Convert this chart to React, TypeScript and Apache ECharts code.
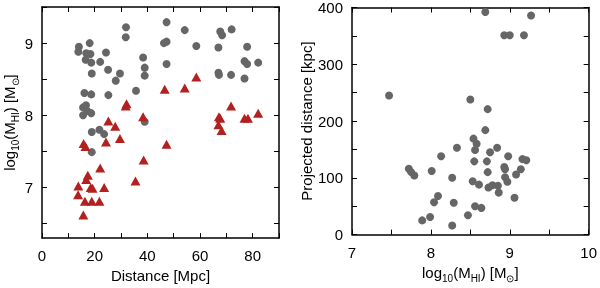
import React, { useEffect, useRef } from "react";
import * as echarts from "echarts";

// Left panel: distance [Mpc] vs log10(M_HI)
const leftGrayPoints: [number, number][] = [
  [14.0, 8.95], [13.8, 8.88], [18.1, 9.0], [16.8, 8.86], [18.4, 8.85], [16.6, 8.77],
  [18.7, 8.73], [18.9, 8.58], [22.1, 8.74], [24.3, 8.87], [25.1, 8.63], [28.0, 8.48],
  [29.6, 8.58], [31.9, 9.22], [31.8, 9.08], [35.7, 8.34], [38.4, 8.8], [39.0, 8.66],
  [39.0, 8.55], [46.3, 9.0], [47.3, 9.02], [47.3, 9.29], [47.3, 8.71], [54.2, 9.18],
  [58.6, 8.96], [67.0, 8.94], [67.7, 9.16], [68.4, 9.11], [72.0, 9.19], [67.0, 8.59],
  [67.2, 8.56], [71.8, 8.56], [76.9, 8.51], [77.9, 8.95], [76.9, 8.75], [77.9, 8.71],
  [82.1, 8.73], [16.1, 8.31], [18.7, 8.29], [25.2, 8.28], [15.6, 8.11], [16.7, 8.14],
  [15.6, 8.0], [18.7, 8.03], [17.2, 8.06], [18.9, 7.77], [21.8, 7.8], [23.6, 7.74],
  [39.0, 7.91], [18.9, 7.49],
];

const leftRedPoints: [number, number][] = [
  [32.1, 8.16], [31.8, 8.13], [38.4, 7.98], [46.6, 8.36], [54.2, 8.38], [58.6, 8.53],
  [25.2, 7.92], [27.8, 7.85], [29.6, 7.68], [15.8, 7.61], [24.3, 7.63], [47.3, 7.6],
  [67.2, 7.98], [67.7, 7.96], [67.0, 7.87], [68.2, 7.79], [71.8, 8.13], [76.9, 7.96],
  [78.2, 7.96], [82.1, 8.03], [16.5, 7.57], [38.6, 7.38], [22.1, 7.27], [17.4, 7.17],
  [16.8, 7.11], [35.5, 7.09], [13.8, 7.02], [18.5, 7.0], [19.2, 6.99], [23.6, 7.0],
  [13.7, 6.9], [16.3, 6.81], [18.9, 6.81], [21.8, 6.81], [15.7, 6.62],
];

// Right panel: log10(M_HI) vs projected distance [kpc]
const rightPoints: [number, number][] = [
  [8.69, 392], [9.27, 386], [8.93, 351], [9.0, 351], [9.18, 351], [7.47, 245],
  [8.5, 238], [8.72, 221], [8.69, 184], [8.54, 169], [8.58, 160], [8.56, 149],
  [8.33, 153], [8.13, 138], [8.84, 153], [8.75, 145], [8.55, 129], [8.71, 129],
  [8.98, 138], [8.72, 110], [8.93, 119], [8.94, 115], [9.16, 133], [9.21, 131],
  [9.14, 115], [9.08, 106], [7.72, 116], [7.75, 110], [7.79, 104], [8.01, 112],
  [8.27, 100], [8.53, 94], [8.61, 88], [8.73, 83], [8.78, 87], [8.85, 86],
  [8.94, 101], [8.97, 93], [8.86, 74], [9.06, 65], [8.09, 68], [8.04, 57],
  [8.29, 56], [8.56, 50], [8.64, 47], [8.47, 34], [7.99, 31], [7.89, 25], [8.27, 16],
];

const leftXRange = [0, 90];
const leftYRange = [6.3, 9.5];
const leftYTicks = [6.5, 7, 7.5, 8, 8.5, 9, 9.5];
const leftYLabels = [7, 8, 9];
const rightXRange = [7, 10];
const rightYRange = [0, 400];

const FONT = "'Liberation Sans', Arial, Helvetica, sans-serif";
const GRAY = "#666666";
const RED = "#b2201f";

const richName = {
  n: { fontSize: 15, fontFamily: FONT, color: "#000", lineHeight: 22, verticalAlign: "middle" },
  s: { fontSize: 10, fontFamily: FONT, color: "#000", lineHeight: 10, verticalAlign: "bottom" },
};
const mhiName = "{n|log}{s|10}{n|(M}{s|HI}{n|) [M}{s|⊙}{n|]}";

const isMultiple = (v: number, step: number) => Math.abs(v / step - Math.round(v / step)) < 1e-6;

const lineStyle = { color: "#000", width: 1.5 };
const tickStyle = { color: "#000", width: 1 };
const labelFont = { fontSize: 15, fontFamily: FONT, color: "#000" };

function axisBase(min: number, max: number, interval: number, gridIndex: number, position: string, labelStep: number | null, margin = 8) {
  return {
    type: "value",
    gridIndex,
    position,
    min,
    max,
    interval,
    splitLine: { show: false },
    axisLine: { show: true, onZero: false, lineStyle },
    axisTick: { show: true, inside: true, length: 5, lineStyle: tickStyle },
    axisLabel: labelStep === null
      ? { show: false }
      : {
          show: true,
          ...labelFont,
          margin,
          formatter: (v: number) => (isMultiple(v, labelStep) ? String(Math.round(v)) : ""),
        },
  };
}

function leftYAxis(position: string, showLabels: boolean) {
  return {
    type: "value",
    gridIndex: 0,
    position,
    min: leftYRange[0],
    max: leftYRange[1],
    splitLine: { show: false },
    axisLine: { show: true, onZero: false, lineStyle },
    axisTick: { show: true, inside: true, length: 5, lineStyle: tickStyle, customValues: leftYTicks },
    axisLabel: showLabels
      ? { show: true, ...labelFont, margin: 9, customValues: leftYLabels, formatter: (v: number) => String(Math.round(v)) }
      : { show: false },
  };
}

export default function App() {
  const ref = useRef<HTMLDivElement>(null);
  useEffect(() => {
    if (!ref.current) return;
    const chart = echarts.init(ref.current, null, { renderer: "svg" });
    const option = {
      animation: false,
      textStyle: { fontFamily: FONT },
      grid: [
        { left: 42, right: 321, top: 7, bottom: 44 },
        { left: 352, right: 10, top: 7, bottom: 45 },
      ],
      xAxis: [
        {
          ...axisBase(leftXRange[0], leftXRange[1], 10, 0, "bottom", 20, 10),
          name: "Distance [Mpc]",
          nameLocation: "middle",
          nameGap: 26,
          nameTextStyle: { fontSize: 15, fontFamily: FONT, color: "#000" },
        },
        axisBase(leftXRange[0], leftXRange[1], 10, 0, "top", null),
        {
          ...axisBase(rightXRange[0], rightXRange[1], 0.5, 1, "bottom", 1, 10),
          name: mhiName,
          nameLocation: "middle",
          nameGap: 22,
          nameTextStyle: { fontSize: 15, fontFamily: FONT, color: "#000", rich: richName },
        },
        axisBase(rightXRange[0], rightXRange[1], 0.5, 1, "top", null),
      ],
      yAxis: [
        {
          ...leftYAxis("left", true),
          name: mhiName,
          nameLocation: "middle",
          nameGap: 20,
          nameTextStyle: { fontSize: 15, fontFamily: FONT, color: "#000", rich: richName },
        },
        leftYAxis("right", false),
        {
          ...axisBase(rightYRange[0], rightYRange[1], 50, 1, "left", 100, 9),
          name: "Projected distance [kpc]",
          nameLocation: "middle",
          nameGap: 38,
          nameTextStyle: { fontSize: 15, fontFamily: FONT, color: "#000" },
        },
        axisBase(rightYRange[0], rightYRange[1], 50, 1, "right", null),
      ],
      series: [
        {
          type: "scatter",
          xAxisIndex: 0,
          yAxisIndex: 0,
          symbol: "circle",
          symbolSize: 8,
          itemStyle: { color: GRAY, opacity: 1 },
          data: leftGrayPoints,
        },
        {
          type: "scatter",
          xAxisIndex: 0,
          yAxisIndex: 0,
          symbol: "triangle",
          symbolSize: [10, 9],
          itemStyle: { color: RED, opacity: 1 },
          data: leftRedPoints,
        },
        {
          type: "scatter",
          xAxisIndex: 2,
          yAxisIndex: 2,
          symbol: "circle",
          symbolSize: 8,
          itemStyle: { color: GRAY, opacity: 1 },
          data: rightPoints,
        },
      ],
    };
    chart.setOption(option as any);
    return () => chart.dispose();
  }, []);
  return (
    <div
      ref={ref}
      style={{ position: "fixed", left: 0, top: 0, width: 600, height: 288 }}
    />
  );
}
